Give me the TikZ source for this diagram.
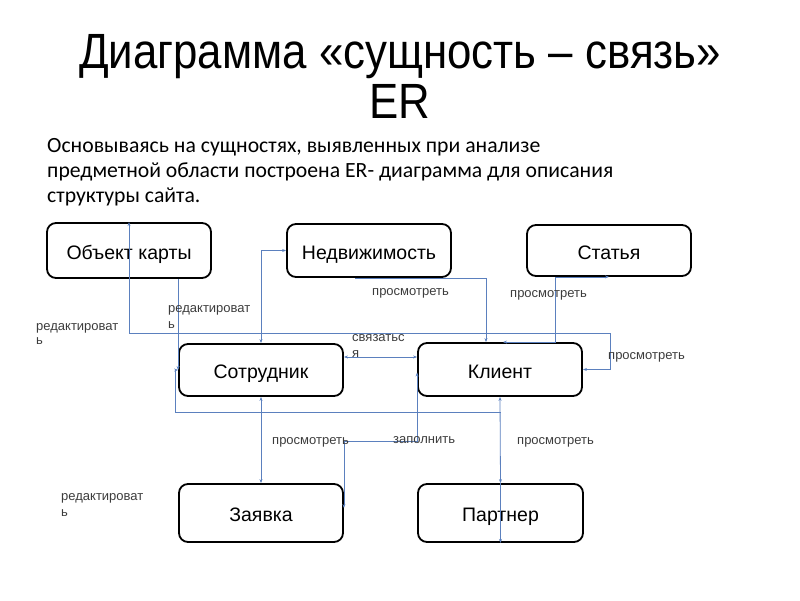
\documentclass[tikz,border=0pt]{standalone}
\usepackage{fontspec}
\setmainfont{Liberation Sans}
\newfontfamily\narrowfont[FakeStretch=0.885]{Liberation Sans}
\newfontfamily\bodyfont{Carlito}
\usetikzlibrary{arrows.meta}
\definecolor{lineblue}{RGB}{91,128,190}
\definecolor{labelgray}{RGB}{60,60,60}
\begin{document}
\begin{tikzpicture}[x=1pt,y=-1pt,
  entity/.style={draw=black, line width=1.8pt, rounded corners=9pt, minimum width=164pt, inner sep=0pt, text height=17pt, text depth=0pt, font=\fontsize{19.5}{22}\selectfont},
  conn/.style={draw=lineblue, line width=0.8pt, >={Stealth[length=4pt,width=3pt]}},
  lbl/.style={anchor=base west, inner sep=0pt, text=labelgray, font=\fontsize{13}{15}\selectfont},
  titletext/.style={anchor=base, inner sep=0pt, font=\narrowfont\fontsize{49.5}{52}\selectfont},
  bodytext/.style={anchor=base west, inner sep=0pt, font=\bodyfont\fontsize{21.7}{25}\selectfont}]
\useasboundingbox (0,0) rectangle (800,600);
% title and text
\node[titletext] (t1) at (400,68) {Диаграмма «сущность – связь»};
\node[titletext] (t2) at (400,118) {ER};
\node[bodytext] (p1) at (47,152) {Основываясь на сущностях, выявленных при анализе};
\node[bodytext] (p2) at (47,177) {предметной области построена ER- диаграмма для описания};
\node[bodytext] (p3) at (47,202) {структуры сайта.};
% entities
\node[entity, minimum height=55pt] (obj) at (129,250.5) {Объект карты};
\node[entity, minimum height=53pt] (ned) at (369,250.5) {Недвижимость};
\node[entity, minimum height=51pt] (stat) at (609,250.5) {Статья};
\node[entity, minimum height=52pt] (sotr) at (261,370) {Сотрудник};
\node[entity, minimum height=53pt] (client) at (500,369.5) {Клиент};
\node[entity, minimum height=58pt] (zayav) at (261,513) {Заявка};
\node[entity, minimum height=58pt, minimum width=165pt] (partner) at (500.5,513) {Партнер};
% rails
\coordinate (railA) at (610,333);
\coordinate (railC) at (175,412);
\coordinate (railJ) at (0,441);
% connectors
\draw[conn,<->] (obj.north) |- (railA) |- (client.east);
\draw[conn,->] (obj.south -| sotr.west) -- (sotr.west);
\draw[conn,<-] (sotr.west) -| (railC) -- (railC -| partner.north);
\draw[conn,<->] (client.south) -- (partner.north);
\draw[conn,->] (partner.north) -- (partner.south);
\draw[conn,<->] (sotr.north) |- (ned.west);
\draw[conn,<->] (sotr.south) -- (zayav.north);
\draw[conn,->] ([xshift=-14pt]ned.south) -| ([xshift=-14pt]client.north);
\draw[conn,<->] (stat.south) -| ([xshift=55pt]client.north) -- ([xshift=3pt]client.north);
\draw[conn,<->] ([yshift=13pt]sotr.east) -- ([yshift=13pt]sotr.east -| client.west);
\draw[conn,<->] ([yshift=-3pt]client.west) -- (client.west |- railJ) -| ([yshift=5pt]zayav.east);
% labels
\node[lbl] (l1a) at (36,330.5) {редактироват};
\node[lbl] (l1b) at (36,344.5) {ь};
\node[lbl] (l2a) at (168,312.5) {редактироват};
\node[lbl] (l2b) at (168,328.5) {ь};
\node[lbl] (l3a) at (352,341.5) {связатьс};
\node[lbl] (l3b) at (352,357.5) {я};
\node[lbl] (l4) at (372,295.5) {просмотреть};
\node[lbl] (l5) at (510,297.5) {просмотреть};
\node[lbl] (l6) at (608,359.5) {просмотреть};
\node[lbl] (l7) at (272,444.5) {просмотреть};
\node[lbl] (l8) at (393,443.5) {заполнить};
\node[lbl] (l9) at (517,444.5) {просмотреть};
\node[lbl] (l10a) at (61,500.5) {редактироват};
\node[lbl] (l10b) at (61,516.5) {ь};
\end{tikzpicture}
\end{document}
